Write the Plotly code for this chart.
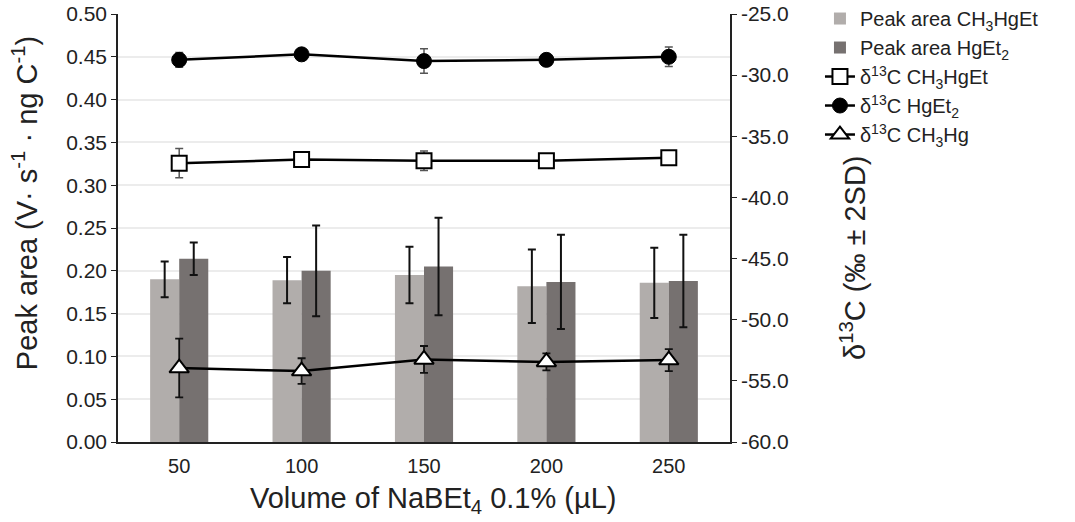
import plotly.graph_objects as go
from plotly.subplots import make_subplots

categories = ["50", "100", "150", "200", "250"]

area_ch3hget = [0.190, 0.189, 0.195, 0.182, 0.186]
area_ch3hget_err = [0.021, 0.027, 0.033, 0.043, 0.041]
area_hget2 = [0.214, 0.200, 0.205, 0.187, 0.188]
area_hget2_err = [0.019, 0.053, 0.057, 0.055, 0.054]

d13c_ch3hget = [-37.2, -36.9, -37.0, -37.0, -36.75]
d13c_ch3hget_err = [1.2, 0.3, 0.8, 0.3, 0.5]
d13c_hget2 = [-28.75, -28.3, -28.85, -28.75, -28.5]
d13c_hget2_err = [0.6, 0.3, 1.0, 0.3, 0.8]
d13c_ch3hg = [-53.95, -54.2, -53.25, -53.45, -53.3]
d13c_ch3hg_err = [2.4, 1.05, 1.1, 0.7, 0.9]

left_ticks = [0.0, 0.05, 0.10, 0.15, 0.20, 0.25, 0.30, 0.35, 0.40, 0.45, 0.50]
left_ticktext = ["0.00", "0.05", "0.10", "0.15", "0.20", "0.25", "0.30", "0.35", "0.40", "0.45", "0.50"]
right_ticks = [-60, -55, -50, -45, -40, -35, -30, -25]
right_ticktext = ["-60.0", "-55.0", "-50.0", "-45.0", "-40.0", "-35.0", "-30.0", "-25.0"]

x_title = "Volume of NaBEt<sub>4</sub> 0.1% (µL)"
y_title = "Peak area (V· s<sup>-1</sup> · ng C<sup>-1</sup>)"
y2_title = "δ<sup>13</sup>C (‰ ± 2SD)"

FONT = "Liberation Sans, Arial, sans-serif"
TXT = "#222222"

fig = make_subplots(specs=[[{"secondary_y": True}]])

fig.add_trace(go.Bar(
    x=categories, y=area_ch3hget, name="Peak area CH<sub>3</sub>HgEt",
    marker=dict(color="#b1adab", line=dict(width=0)),
    error_y=dict(type="data", array=area_ch3hget_err, color="#111111", thickness=2, width=4),
), secondary_y=False)
fig.add_trace(go.Bar(
    x=categories, y=area_hget2, name="Peak area HgEt<sub>2</sub>",
    marker=dict(color="#767170", line=dict(width=0)),
    error_y=dict(type="data", array=area_hget2_err, color="#111111", thickness=2, width=4),
), secondary_y=False)

fig.add_trace(go.Scatter(
    x=categories, y=d13c_ch3hget, name="δ<sup>13</sup>C CH<sub>3</sub>HgEt",
    mode="lines+markers",
    line=dict(color="black", width=2.5),
    marker=dict(symbol="square", size=15, color="white", line=dict(color="black", width=2)),
    error_y=dict(type="data", array=d13c_ch3hget_err, color="#555555", thickness=1.5, width=4),
), secondary_y=True)
fig.add_trace(go.Scatter(
    x=categories, y=d13c_hget2, name="δ<sup>13</sup>C HgEt<sub>2</sub>",
    mode="lines+markers",
    line=dict(color="black", width=2.5),
    marker=dict(symbol="circle", size=15, color="black", line=dict(color="black", width=1)),
    error_y=dict(type="data", array=d13c_hget2_err, color="#555555", thickness=1.5, width=4),
), secondary_y=True)
fig.add_trace(go.Scatter(
    x=categories, y=d13c_ch3hg, name="δ<sup>13</sup>C CH<sub>3</sub>Hg",
    mode="lines+markers",
    line=dict(color="black", width=2.5),
    marker=dict(symbol="triangle-up", size=17, color="white", line=dict(color="black", width=2)),
    error_y=dict(type="data", array=d13c_ch3hg_err, color="#111111", thickness=1.8, width=4),
), secondary_y=True)

fig.update_layout(
    width=1075, height=522,
    margin=dict(l=118, r=345, t=14, b=80, autoexpand=False),
    paper_bgcolor="white", plot_bgcolor="white",
    barmode="group", bargap=0.525, bargroupgap=0,
    font=dict(family=FONT, size=20, color=TXT),
    showlegend=True,
    legend=dict(
        xref="paper", yref="paper",
        x=1.147, y=1.035, xanchor="left", yanchor="top",
        font=dict(family=FONT, size=20, color=TXT),
        bgcolor="rgba(0,0,0,0)", tracegroupgap=0, itemwidth=30,
    ),
    annotations=[
        dict(text=x_title, xref="paper", yref="paper", x=0.516, y=-0.1355,
             xanchor="center", yanchor="middle", showarrow=False,
             font=dict(family=FONT, size=29, color=TXT)),
        dict(text=y_title, xref="paper", yref="paper", x=-0.152, y=0.558,
             xanchor="center", yanchor="middle", textangle=-90, showarrow=False,
             font=dict(family=FONT, size=29, color=TXT)),
        dict(text=y2_title, xref="paper", yref="paper", x=1.201, y=0.43,
             xanchor="center", yanchor="middle", textangle=-90, showarrow=False,
             font=dict(family=FONT, size=29, color=TXT)),
    ],
)

fig.update_xaxes(
    type="category", domain=[0, 1], automargin=False,
    showline=True, linecolor=TXT, linewidth=1.5,
    showgrid=False, ticks="", tickfont=dict(size=20), ticklabelstandoff=5,
)
fig.update_yaxes(
    range=[0, 0.5], tickvals=left_ticks, ticktext=left_ticktext, automargin=False,
    showline=True, linecolor=TXT, linewidth=1.5, ticklabeloverflow="allow",
    ticks="outside", ticklen=5, tickcolor=TXT,
    showgrid=True, gridcolor="#ececec", gridwidth=1.5, zeroline=False,
    tickfont=dict(size=21),
    secondary_y=False,
)
fig.update_yaxes(
    range=[-60, -25], tickvals=right_ticks, ticktext=right_ticktext, automargin=False,
    showline=True, linecolor=TXT, linewidth=1.5, ticklabeloverflow="allow",
    ticks="outside", ticklen=5, tickcolor=TXT,
    showgrid=False, zeroline=False,
    tickfont=dict(size=21),
    secondary_y=True,
)

fig.write_html("out.html", config={"displayModeBar": False},
               post_script="document.body.style.margin='0';")
